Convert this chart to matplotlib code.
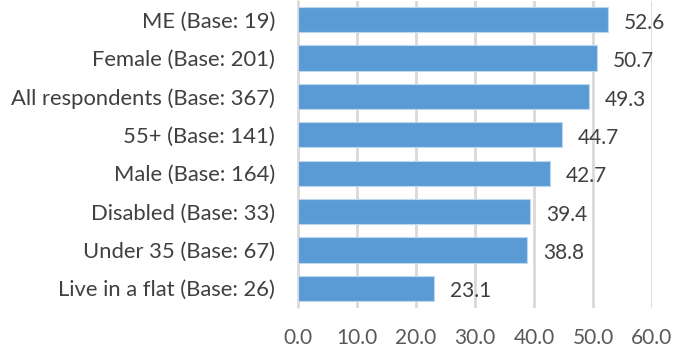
import matplotlib
matplotlib.use("Agg")
import matplotlib.pyplot as plt

categories = [
    "ME (Base: 19)",
    "Female (Base: 201)",
    "All respondents (Base: 367)",
    "55+ (Base: 141)",
    "Male (Base: 164)",
    "Disabled (Base: 33)",
    "Under 35 (Base: 67)",
    "Live in a flat (Base: 26)",
]
values = [52.6, 50.7, 49.3, 44.7, 42.7, 39.4, 38.8, 23.1]
xticks = [0, 10, 20, 30, 40, 50, 60]

plt.rcParams["font.family"] = ["Lato", "DejaVu Sans"]

fig = plt.figure(figsize=(6.75, 3.53), dpi=100)
ax = fig.add_axes([298 / 675, 1 - 307.5 / 353, 354 / 675, 307 / 353])

pos = list(range(len(categories)))
ax.barh(pos, values, height=0.66, color="#5B9BD5", edgecolor="#BDD7EE",
        linewidth=0.8, zorder=3)
for y, v in zip(pos, values):
    ax.text(v + 2.7, y + 0.08, f"{v:.1f}", va="center", ha="left",
            fontsize=15, color="#404040")

ax.set_ylim(len(categories) - 0.5, -0.5)
ax.set_xlim(0, 60)
ax.set_yticks(pos)
ax.set_yticklabels(categories, fontsize=15.8, color="#404040")
ax.set_xticks(xticks)
ax.set_xticklabels([f"{t:.1f}" for t in xticks], fontsize=15, color="#595959")
ax.tick_params(axis="y", length=0, pad=16.5)
ax.tick_params(axis="x", length=0, pad=14.5)
ax.grid(axis="x", color="#D9D9D9", linewidth=2, zorder=0)
for s in ["top", "right", "bottom"]:
    ax.spines[s].set_visible(False)
ax.spines["left"].set_color("#D9D9D9")
ax.spines["left"].set_linewidth(1.2)
ax.spines["left"].set_zorder(4)

fig.savefig("out.png", dpi=100)
